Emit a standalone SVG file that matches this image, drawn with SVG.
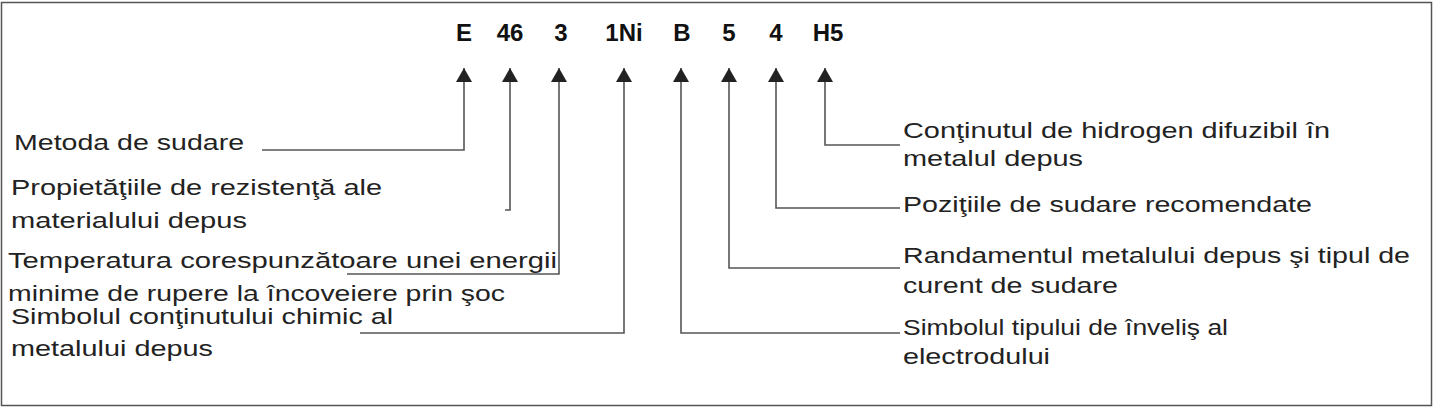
<svg xmlns="http://www.w3.org/2000/svg" width="1434" height="409" viewBox="0 0 1434 409">
<style>
.t{font-family:"Liberation Sans",Arial,sans-serif;font-size:22px;fill:#222}
.c{font-family:"Liberation Sans",Arial,sans-serif;font-size:24px;font-weight:bold;fill:#111;text-anchor:middle}
.l{fill:none;stroke:#555;stroke-width:1.6}
</style>
<defs><marker id="b" viewBox="0 0 16 14" refX="8" refY="0" markerWidth="16" markerHeight="14" markerUnits="userSpaceOnUse" orient="0"><path d="M0,14L8,0L16,14z" fill="#222"/></marker></defs>
<rect x="1.5" y="2.5" width="1430" height="403" fill="#fff" stroke="#555" stroke-width="1.5"/>
<g id="codes">
<text class="c" x="464" y="41">E</text><text class="c" x="510" y="41">46</text><text class="c" x="561" y="41">3</text><text class="c" x="624" y="41">1Ni</text><text class="c" x="682" y="41">B</text><text class="c" x="729" y="41">5</text><text class="c" x="776" y="41">4</text><text class="c" x="828" y="41">H5</text>
</g>
<g id="connectors">
<path class="l" marker-start="url(#b)" d="M464,68V150H262"/>
<path class="l" marker-start="url(#b)" d="M510,68V210H505"/>
<path class="l" marker-start="url(#b)" d="M559,68V274H347"/>
<path class="l" marker-start="url(#b)" d="M624,68V333H360"/>
<path class="l" marker-start="url(#b)" d="M681,68V333H900"/>
<path class="l" marker-start="url(#b)" d="M729,68V268H900"/>
<path class="l" marker-start="url(#b)" d="M776,68V208H900"/>
<path class="l" marker-start="url(#b)" d="M825,68V145H900"/>
</g>
<g id="n1"><text class="t" x="14" y="150" textLength="230" lengthAdjust="spacingAndGlyphs">Metoda de sudare</text></g>
<g id="n2"><text class="t" x="11" y="195" textLength="371" lengthAdjust="spacingAndGlyphs">Propietăţiile de rezistenţă ale</text><text class="t" x="11" y="228" textLength="236" lengthAdjust="spacingAndGlyphs">materialului depus</text></g>
<g id="n3"><text class="t" x="8" y="268" textLength="549" lengthAdjust="spacingAndGlyphs">Temperatura corespunzătoare unei energii</text><text class="t" x="8" y="301" textLength="497" lengthAdjust="spacingAndGlyphs">minime de rupere la încoveiere prin şoc</text></g>
<g id="n4"><text class="t" x="11" y="324" textLength="382" lengthAdjust="spacingAndGlyphs">Simbolul conţinutului chimic al</text><text class="t" x="11" y="356" textLength="202" lengthAdjust="spacingAndGlyphs">metalului depus</text></g>
<g id="n5"><text class="t" x="903" y="138" textLength="427" lengthAdjust="spacingAndGlyphs">Conţinutul de hidrogen difuzibil în</text><text class="t" x="903" y="166" textLength="180" lengthAdjust="spacingAndGlyphs">metalul depus</text></g>
<g id="n6"><text class="t" x="903" y="212" textLength="409" lengthAdjust="spacingAndGlyphs">Poziţiile de sudare recomendate</text></g>
<g id="n7"><text class="t" x="903" y="263" textLength="507" lengthAdjust="spacingAndGlyphs">Randamentul metalului depus şi tipul de</text><text class="t" x="903" y="293" textLength="215" lengthAdjust="spacingAndGlyphs">curent de sudare</text></g>
<g id="n8"><text class="t" x="903" y="335" textLength="325" lengthAdjust="spacingAndGlyphs">Simbolul tipului de înveliş al</text><text class="t" x="903" y="364" textLength="147" lengthAdjust="spacingAndGlyphs">electrodului</text></g>
</svg>
